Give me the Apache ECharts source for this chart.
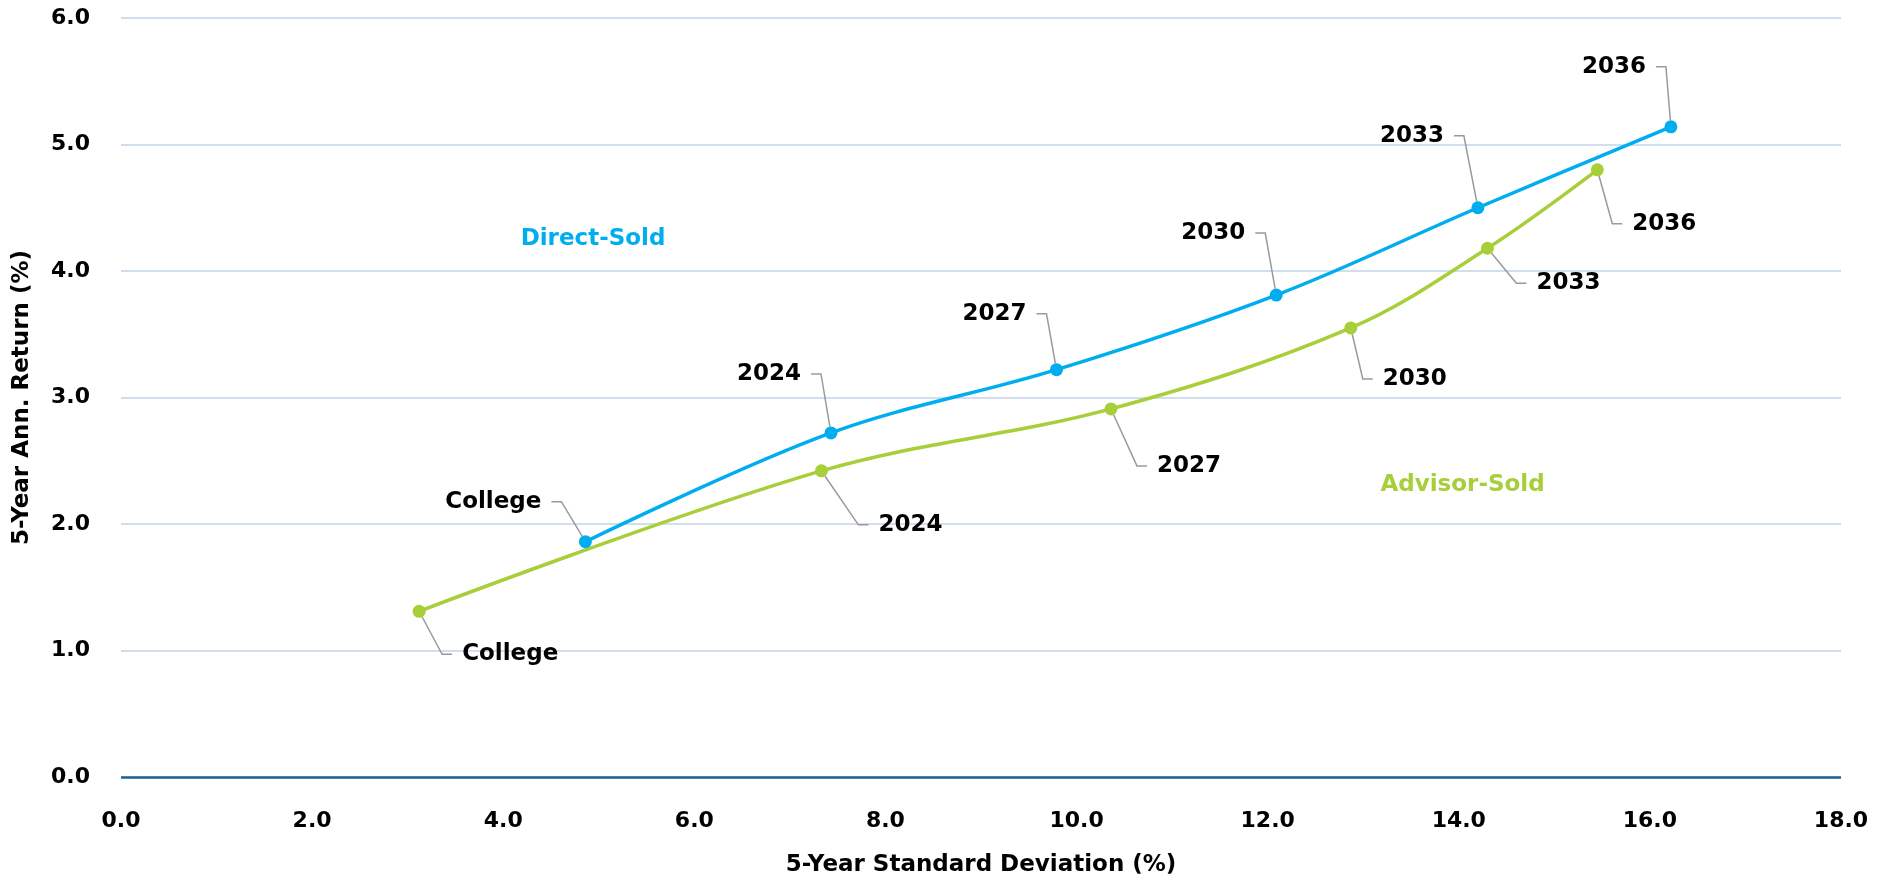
<!DOCTYPE html>
<html>
<head>
<meta charset="utf-8">
<script src="https://cdn.jsdelivr.net/npm/echarts@6/dist/echarts.min.js"></script>
<style>
html,body{margin:0;padding:0;background:#fff;}
#chart{width:1893px;height:882px;}
</style>
</head>
<body>
<div id="chart"></div>
<script>
// ---- data ----
const pointLabels = ['College', '2024', '2027', '2030', '2033', '2036'];
const directX = [4.86, 7.43, 9.79, 12.09, 14.20, 16.22];
const directY = [1.86, 2.72, 3.22, 3.81, 4.50, 5.14];
const advisorX = [3.12, 7.33, 10.36, 12.87, 14.30, 15.45];
const advisorY = [1.31, 2.42, 2.91, 3.55, 4.18, 4.80];
const seriesNames = ['Direct-Sold', 'Advisor-Sold'];
const seriesNameX = [4.94, 14.04];
const seriesNameY = [4.25, 2.31];
const xTicks = [0, 2, 4, 6, 8, 10, 12, 14, 16, 18];
const yTicks = [0, 1, 2, 3, 4, 5, 6];
const xTitle = '5-Year Standard Deviation (%)';
const yTitle = '5-Year Ann. Return (%)';

// ---- label offsets (pixels, relative to the point) ----
const directLabelOffset = [[-44, -40], [-30, -59], [-30, -56], [-31, -62], [-34, -72], [-25, -60]];
const advisorLabelOffset = [[43, 43], [57, 54], [46, 57], [32, 51], [49, 35], [35, 54]];

const BLUE = '#00AEEF';
const GREEN = '#A8CE3A';
const FONT = 'DejaVu Sans';
const PAD = 10;

function buildData(xs, ys) {
  return xs.map((x, i) => ({ value: [x, ys[i]], name: pointLabels[i] }));
}

function layoutFor(offsets, side) {
  return function (p) {
    const cx = p.rect.x + p.rect.width / 2;
    const cy = p.rect.y + p.rect.height / 2;
    const o = offsets[p.dataIndex];
    if (side === 'left') {
      return { x: cx + o[0] + PAD, y: cy + o[1], align: 'right', verticalAlign: 'middle' };
    }
    return { x: cx + o[0] - PAD, y: cy + o[1], align: 'left', verticalAlign: 'middle' };
  };
}

const labelCommon = {
  show: true,
  formatter: '{b}',
  color: '#000',
  fontFamily: FONT,
  fontWeight: 'bold',
  fontSize: 23,
  padding: [0, PAD, 0, PAD],
  backgroundColor: 'rgba(255,255,255,0)'
};
const labelLineCommon = {
  show: true,
  length2: 10,
  smooth: false,
  lineStyle: { color: '#9a9a9a', width: 1.5 }
};

const chart = echarts.init(document.getElementById('chart'));
chart.setOption({
  animation: false,
  backgroundColor: '#fff',
  grid: { left: 121, right: 52, top: 18, bottom: 102 },
  xAxis: {
    type: 'value',
    min: xTicks[0],
    max: xTicks[xTicks.length - 1],
    interval: 2,
    name: xTitle,
    nameLocation: 'middle',
    nameGap: 77,
    nameTextStyle: { fontFamily: FONT, fontWeight: 'bold', fontSize: 23, color: '#000' },
    axisLine: { show: false },
    axisTick: { show: false },
    splitLine: { show: false },
    axisLabel: {
      margin: 33,
      fontFamily: FONT, fontWeight: 'bold', fontSize: 22, color: '#000',
      formatter: v => v.toFixed(1)
    }
  },
  yAxis: {
    type: 'value',
    min: yTicks[0],
    max: yTicks[yTicks.length - 1],
    interval: 1,
    name: yTitle,
    nameLocation: 'middle',
    nameGap: 87,
    nameRotate: 90,
    nameTextStyle: { fontFamily: FONT, fontWeight: 'bold', fontSize: 23, color: '#000' },
    axisLine: { show: false },
    axisTick: { show: false },
    splitLine: { show: true, lineStyle: { color: '#C3D3EA', width: 1.5 } },
    axisLabel: {
      margin: 31,
      fontFamily: FONT, fontWeight: 'bold', fontSize: 22, color: '#000',
      formatter: v => v.toFixed(1)
    }
  },
  series: [
    {
      name: seriesNames[0],
      type: 'line',
      smooth: 0.35,
      symbol: 'circle',
      symbolSize: 13,
      lineStyle: { color: BLUE, width: 3.5 },
      itemStyle: { color: BLUE },
      data: buildData(directX, directY),
      label: Object.assign({}, labelCommon),
      labelLine: labelLineCommon,
      labelLayout: layoutFor(directLabelOffset, 'left'),
      markLine: {
        silent: true,
        symbol: 'none',
        label: { show: false },
        lineStyle: { color: '#1B6591', width: 2.5, type: 'solid' },
        data: [{ yAxis: 0 }]
      },
      z: 3
    },
    {
      name: seriesNames[1],
      type: 'line',
      smooth: 0.35,
      symbol: 'circle',
      symbolSize: 13,
      lineStyle: { color: GREEN, width: 3.5 },
      itemStyle: { color: GREEN },
      data: buildData(advisorX, advisorY),
      label: Object.assign({}, labelCommon),
      labelLine: labelLineCommon,
      labelLayout: layoutFor(advisorLabelOffset, 'right'),
      z: 2
    },
    {
      name: 'series-titles',
      type: 'scatter',
      symbolSize: 0,
      silent: true,
      itemStyle: { opacity: 1 },
      data: seriesNames.map((n, i) => ({
        value: [seriesNameX[i], seriesNameY[i]],
        name: n,
        label: { color: i === 0 ? BLUE : GREEN }
      })),
      label: {
        show: true,
        position: 'inside',
        formatter: '{b}',
        fontFamily: FONT,
        fontWeight: 'bold',
        fontSize: 23
      }
    }
  ]
});
</script>
</body>
</html>
